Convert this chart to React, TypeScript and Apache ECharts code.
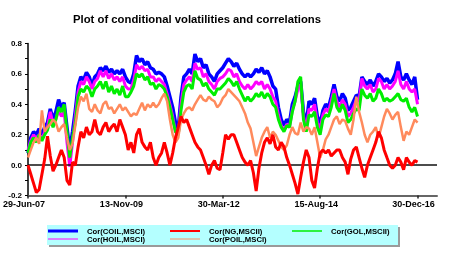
import React, { useEffect, useRef } from "react";
import * as echarts from "echarts";

const title = "Plot of conditional volatilities and correlations";
const dateTicks = ["29-Jun-07", "13-Nov-09", "30-Mar-12", "15-Aug-14", "30-Dec-16"];
const dateTickIndex = [0, 35, 70, 105, 140];
const seriesNames = ["Cor(COIL,MSCI)", "Cor(NG,MSCII)", "Cor(GOL,MSCII)", "Cor(HOIL,MSCI)", "Cor(POIL,MSCI)"];

const coil = [
  0.08, 0.18, 0.22, 0.2, 0.24, 0.2, 0.25, 0.28, 0.37, 0.3,
  0.35, 0.43, 0.38, 0.41, 0.25, 0.1, 0.22, 0.36, 0.52, 0.58,
  0.56, 0.61, 0.58, 0.52, 0.58, 0.6, 0.64, 0.62, 0.65, 0.61,
  0.63, 0.6, 0.62, 0.6, 0.63, 0.58, 0.55, 0.54, 0.6, 0.72,
  0.68, 0.7, 0.66, 0.68, 0.64, 0.63, 0.6, 0.61, 0.6, 0.58,
  0.52, 0.45, 0.38, 0.28, 0.24, 0.45, 0.58, 0.6, 0.63, 0.6,
  0.73, 0.68, 0.7, 0.64, 0.66, 0.6, 0.58, 0.55, 0.6, 0.62,
  0.64, 0.67, 0.7, 0.68, 0.65, 0.67, 0.63, 0.6, 0.58, 0.6,
  0.58, 0.6, 0.63, 0.61, 0.64, 0.6, 0.62, 0.58, 0.52, 0.5,
  0.38, 0.3, 0.26, 0.3, 0.28, 0.4, 0.45, 0.52, 0.55, 0.35,
  0.27, 0.42, 0.4, 0.44, 0.32, 0.27, 0.36, 0.4, 0.38, 0.45,
  0.53, 0.45, 0.42, 0.47, 0.44, 0.36, 0.38, 0.42, 0.46, 0.45,
  0.58, 0.55, 0.53, 0.56, 0.52, 0.55, 0.6, 0.58, 0.55, 0.57,
  0.54, 0.56, 0.6, 0.68, 0.58, 0.56, 0.6, 0.56, 0.53, 0.58,
  0.43,
];

const hoil = [
  0.1, 0.16, 0.2, 0.17, 0.2, 0.17, 0.22, 0.25, 0.35, 0.27,
  0.3, 0.36, 0.32, 0.35, 0.15, -0.01, 0.15, 0.32, 0.48, 0.55,
  0.53, 0.58, 0.55, 0.5, 0.55, 0.57, 0.62, 0.58, 0.62, 0.57,
  0.6, 0.56, 0.58, 0.55, 0.58, 0.52, 0.5, 0.5, 0.56, 0.66,
  0.63, 0.65, 0.62, 0.63, 0.58, 0.58, 0.55, 0.57, 0.55, 0.53,
  0.47, 0.4, 0.32, 0.22, 0.2, 0.4, 0.53, 0.56, 0.58, 0.55,
  0.67, 0.63, 0.64, 0.58, 0.6, 0.55, 0.53, 0.5, 0.55, 0.57,
  0.58, 0.6, 0.63, 0.62, 0.58, 0.6, 0.55, 0.52, 0.5, 0.53,
  0.5, 0.52, 0.55, 0.53, 0.55, 0.5, 0.53, 0.5, 0.45, 0.42,
  0.33, 0.26, 0.23, 0.27, 0.25, 0.36, 0.42, 0.5, 0.53, 0.32,
  0.24, 0.37, 0.36, 0.4, 0.28, 0.24, 0.33, 0.37, 0.35, 0.42,
  0.5, 0.42, 0.38, 0.43, 0.4, 0.32, 0.34, 0.38, 0.43, 0.42,
  0.57, 0.52, 0.5, 0.53, 0.48, 0.5, 0.57, 0.55, 0.5, 0.53,
  0.5, 0.52, 0.55, 0.62, 0.53, 0.5, 0.55, 0.5, 0.48, 0.5,
  0.4,
];

const gol = [
  0.08, 0.15, 0.18, 0.15, 0.2, 0.16, 0.2, 0.23, 0.3, 0.25,
  0.3, 0.38, 0.35, 0.4, 0.22, 0.05, 0.18, 0.28, 0.45, 0.5,
  0.48, 0.52, 0.5, 0.45, 0.5, 0.52, 0.55, 0.5, 0.55, 0.48,
  0.52, 0.47, 0.5, 0.46, 0.52, 0.45, 0.45, 0.48, 0.52, 0.6,
  0.58, 0.6, 0.56, 0.58, 0.53, 0.54, 0.5, 0.53, 0.52, 0.5,
  0.45, 0.38, 0.3, 0.22, 0.2, 0.36, 0.48, 0.52, 0.53, 0.5,
  0.62, 0.57, 0.56, 0.52, 0.54, 0.5, 0.48, 0.46, 0.5, 0.5,
  0.52, 0.54, 0.57, 0.55, 0.52, 0.55, 0.5, 0.46, 0.42, 0.45,
  0.42, 0.44, 0.47, 0.45, 0.48, 0.44, 0.47, 0.45, 0.4, 0.38,
  0.3, 0.25, 0.22, 0.26, 0.25, 0.35, 0.42, 0.55, 0.58, 0.3,
  0.22, 0.33, 0.32, 0.35, 0.25, 0.2, 0.3, 0.33, 0.32, 0.38,
  0.47, 0.38, 0.35, 0.4, 0.36, 0.28, 0.3, 0.34, 0.37, 0.36,
  0.5, 0.46, 0.44, 0.47, 0.42, 0.44, 0.5, 0.47, 0.42, 0.44,
  0.42, 0.43, 0.45, 0.47, 0.43, 0.42, 0.44, 0.38, 0.35, 0.38,
  0.32,
];

const poil = [
  0.05, 0.1, 0.15, 0.18, 0.14, 0.36, 0.22, 0.25, 0.27, 0.3,
  0.28, 0.22, 0.25, 0.27, 0.18, 0.1, 0.14, 0.26, 0.38, 0.45,
  0.42, 0.47, 0.37, 0.35, 0.4, 0.36, 0.34, 0.4, 0.42, 0.37,
  0.38, 0.34, 0.37, 0.4, 0.36, 0.38, 0.35, 0.32, 0.34, 0.33,
  0.37, 0.41, 0.36, 0.4, 0.38, 0.41, 0.38, 0.4, 0.44, 0.47,
  0.42, 0.3, 0.2, 0.15, 0.18, 0.3, 0.34, 0.37, 0.38, 0.36,
  0.4, 0.43, 0.46, 0.43, 0.42, 0.45, 0.43, 0.42, 0.38, 0.4,
  0.44, 0.46, 0.5, 0.48, 0.46, 0.44, 0.42, 0.38, 0.34, 0.28,
  0.24, 0.15, 0.06, 0.12, 0.18, 0.22, 0.25, 0.18, 0.22, 0.2,
  0.16, 0.12, 0.1, 0.13, 0.2, 0.25, 0.21, 0.2, 0.28, 0.22,
  0.25, 0.24, 0.2, 0.25, 0.15, 0.05, 0.1, 0.17, 0.2, 0.25,
  0.3, 0.32, 0.27, 0.3, 0.29, 0.24, 0.2, 0.3, 0.45, 0.35,
  0.28, 0.2, 0.15, 0.2, 0.22, 0.25, 0.18, 0.25, 0.32, 0.37,
  0.34, 0.3, 0.33, 0.35, 0.25, 0.16, 0.22, 0.2, 0.25, 0.3,
  0.28,
];

const ng = [
  0.0, -0.06, -0.12, -0.18, -0.16, -0.06, 0.04, 0.19, 0.06, -0.04,
  0.0, 0.05, 0.1, 0.05, -0.1, -0.13, 0.02, 0.0, 0.12, 0.22,
  0.18, 0.25, 0.2, 0.22, 0.3, 0.22, 0.2, 0.25, 0.28, 0.22,
  0.25, 0.27, 0.22, 0.3, 0.25, 0.2, 0.1, 0.15, 0.08, 0.2,
  0.24, 0.15, 0.12, 0.1, 0.15, 0.05, 0.0, 0.05, 0.08, 0.15,
  0.08, 0.0, 0.08, 0.18, 0.25, 0.32, 0.28, 0.3, 0.25, 0.2,
  0.15, 0.12, 0.1, 0.05, 0.0, -0.06, 0.0, 0.03, -0.02, -0.03,
  0.08, 0.2, 0.17, 0.2, 0.2, 0.15, 0.1, 0.05, 0.02, 0.0,
  0.03, -0.05, -0.17, -0.02, 0.08, 0.15, 0.18, 0.14, 0.2, 0.12,
  0.1, 0.15, 0.12, 0.05, 0.0, -0.06, -0.12, -0.19, -0.08, 0.02,
  0.1, 0.05, -0.1, -0.15, -0.02, 0.08, 0.1, 0.08, 0.1, 0.06,
  0.08, 0.1, 0.1, 0.05, 0.02, -0.06, 0.04, 0.1, 0.12, 0.05,
  -0.02, -0.08, 0.0, 0.05, 0.1, 0.15, 0.22, 0.18, 0.1, 0.05,
  0.0, -0.02, 0.0, 0.05, 0.02, -0.03, 0.05, 0.02, 0.0, 0.03,
  0.02,
];

const seriesValues = [coil, ng, gol, hoil, poil];
const seriesColors = ["#0000ff", "#ff0000", "#00ee00", "#ff00ff", "#ff8a5c"];
const lineWidths = [3.5, 3, 3, 3, 2.5];
const legendWidths = [3, 2, 1.5, 1, 1];
const drawOrder = [0, 3, 2, 4, 1];

export default function App() {
  const ref = useRef<HTMLDivElement>(null);
  useEffect(() => {
    if (!ref.current) return;
    const chart = echarts.init(ref.current, null, { renderer: "svg" });
    const font = "Liberation Sans";
    const last = drawOrder.length - 1;
    const series: any[] = drawOrder.map((k, j) => ({
      type: "line",
      name: seriesNames[k],
      data: seriesValues[k].map((v, i) => [i, v]),
      showSymbol: false,
      symbol: "none",
      lineStyle: { color: seriesColors[k], width: lineWidths[k] },
      itemStyle: { color: seriesColors[k] },
      z: 2 + j,
      markLine:
        j === last
          ? {
              silent: true,
              symbol: ["none", "none"],
              label: { show: false },
              lineStyle: { color: "#111", width: 1.5, type: "solid" },
              data: [{ yAxis: 0 }],
            }
          : undefined,
    }));

    const legendCols = [
      [0, 3],
      [1, 4],
      [2],
    ];
    const colX = [48, 170, 292];
    const rowY = [231, 239];
    const legendEls: any[] = [
      { type: "rect", shape: { x: 49, y: 227, width: 351, height: 20 }, style: { fill: "#9a9a9a" } },
      { type: "rect", shape: { x: 47, y: 225, width: 351, height: 20 }, style: { fill: "#b4ffff" } },
    ];
    legendCols.forEach((col, c) => {
      col.forEach((k, r) => {
        legendEls.push({
          type: "line",
          shape: { x1: colX[c], y1: rowY[r], x2: colX[c] + 30, y2: rowY[r] },
          style: { stroke: seriesColors[k], lineWidth: legendWidths[k] },
        });
        legendEls.push({
          type: "text",
          x: colX[c] + 39,
          y: rowY[r],
          style: {
            text: seriesNames[k],
            fill: "#000",
            fontFamily: font,
            fontSize: 7.7,
            fontWeight: "bold",
            verticalAlign: "middle",
          },
        });
      });
    });

    chart.setOption({
      animation: false,
      title: {
        text: title,
        left: 197,
        top: 13,
        padding: 0,
        textAlign: "center",
        textStyle: { fontFamily: font, fontSize: 11.3, fontWeight: "bold", color: "#000" },
      },
      grid: { left: 28, right: 17, top: 43.4, bottom: 59.4, containLabel: false },
      xAxis: {
        type: "value",
        min: 0,
        max: 147,
        interval: 35,
        axisLine: { show: true, onZero: false, lineStyle: { color: "#666", width: 2 } },
        axisTick: { show: true, length: 3, customValues: dateTickIndex, lineStyle: { color: "#222", width: 1.5 } },
        axisLabel: {
          customValues: dateTickIndex,
          formatter: (v: number) => {
            const idx = dateTickIndex.indexOf(Math.round(v));
            return idx >= 0 ? dateTicks[idx] : "";
          },
          fontFamily: font,
          fontSize: 9,
          fontWeight: "bold",
          color: "#000",
          margin: 4,
          padding: [0, 8, 0, 0],
        },
        splitLine: { show: false },
      },
      yAxis: {
        type: "value",
        min: -0.2,
        max: 0.8,
        interval: 0.1,
        axisLine: { show: true, lineStyle: { color: "#000", width: 1.5 } },
        axisTick: { show: true, length: 3, lineStyle: { color: "#000", width: 1 } },
        axisLabel: {
          formatter: (v: number) => (Math.round(v * 10) % 2 === 0 ? v.toFixed(1) : ""),
          fontFamily: font,
          fontSize: 8,
          fontWeight: "bold",
          color: "#000",
          margin: 6,
        },
        splitLine: { show: false },
      },
      series,
      graphic: { elements: legendEls },
    });
    return () => chart.dispose();
  }, []);
  return <div ref={ref} style={{ position: "fixed", left: 0, top: 0, width: 454, height: 255 }} />;
}
